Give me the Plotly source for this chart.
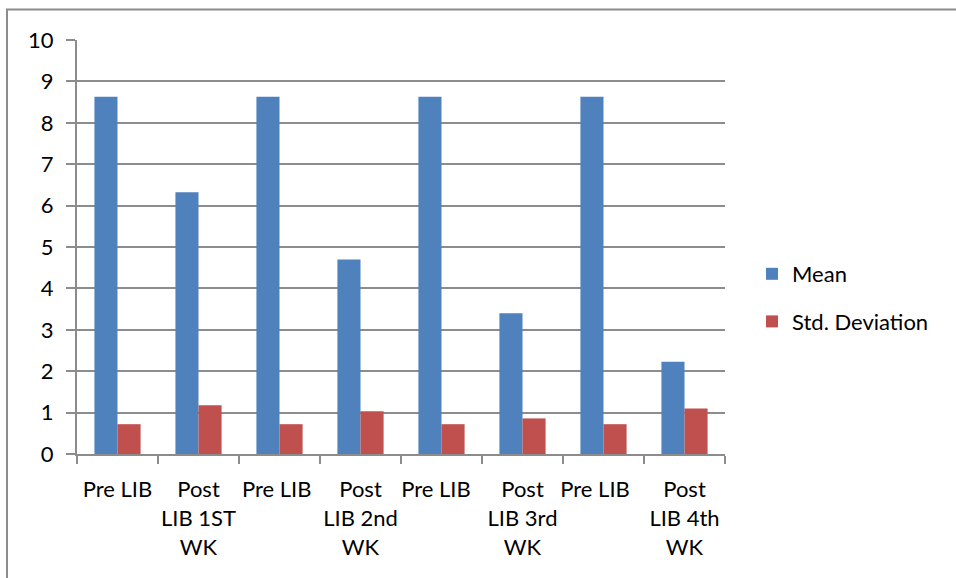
import plotly.graph_objects as go

categories = [
    "Pre LIB", "Post<br>LIB 1ST<br>WK",
    "Pre LIB ", "Post<br>LIB 2nd<br>WK",
    "Pre LIB  ", "Post<br>LIB 3rd<br>WK",
    "Pre LIB   ", "Post<br>LIB 4th<br>WK",
]
mean_values = [8.63, 6.32, 8.63, 4.70, 8.63, 3.40, 8.63, 2.23]
std_values = [0.72, 1.18, 0.72, 1.03, 0.72, 0.86, 0.72, 1.10]
y_ticks = list(range(0, 11))

FONT = "Lato"
GRID = "#8c8c8c"

fig = go.Figure()
fig.add_trace(go.Bar(name="Mean", x=categories, y=mean_values, legendgroup="m",
                     marker=dict(color="#4F81BD", line=dict(width=0))))
fig.add_trace(go.Bar(name="Std. Deviation", x=categories, y=std_values, legendgroup="s",
                     marker=dict(color="#C0504D", line=dict(width=0))))

fig.update_layout(
    width=956, height=578,
    margin=dict(l=77, r=231, t=40, b=124),
    paper_bgcolor="white", plot_bgcolor="white",
    barmode="group", bargap=0.43, bargroupgap=0,
    font=dict(family=FONT, size=22, color="#000000"),
    legend=dict(x=(752 - 77) / 648, y=(454 - 253) / 414, xanchor="left", yanchor="top",
                font=dict(size=22), tracegroupgap=16, itemwidth=30,
                bgcolor="rgba(0,0,0,0)"),
    xaxis=dict(type="category", tickson="boundaries", ticks="outside",
               ticklen=8, tickcolor=GRID, tickwidth=2, tickangle=0,
               ticklabelstandoff=15,
               showline=True, linecolor=GRID, linewidth=2,
               showgrid=False, tickfont=dict(size=22), automargin=False),
    yaxis=dict(range=[0, 10], tickvals=y_ticks, ticks="outside",
               ticklen=9, tickcolor=GRID, tickwidth=2, ticklabelstandoff=8,
               showline=True, linecolor=GRID, linewidth=2,
               showgrid=True, gridcolor=GRID, gridwidth=2,
               zeroline=False, tickfont=dict(size=22), automargin=False),
    shapes=[dict(type="rect", xref="paper", yref="paper",
                 x0=(7 - 77) / 648, x1=(970 - 77) / 648,
                 y0=(454 - 600) / 414, y1=(454 - 9.5) / 414,
                 line=dict(color="#8c8c8c", width=2), layer="below")],
)

fig.write_html("out.html")
